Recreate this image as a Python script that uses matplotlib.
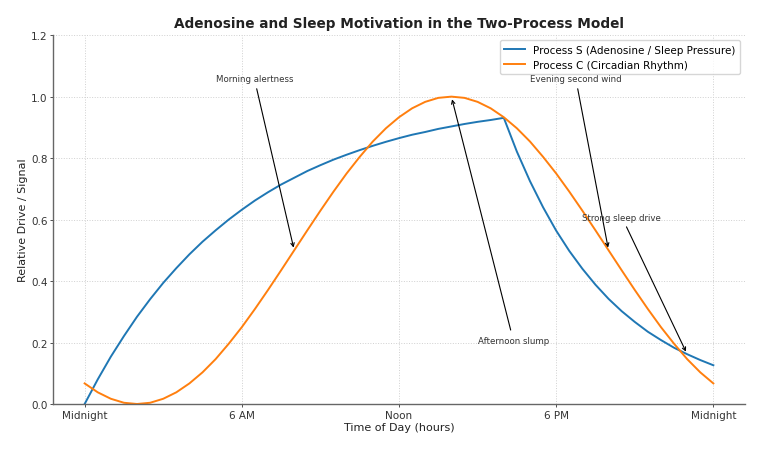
import matplotlib
matplotlib.use("Agg")
import matplotlib.pyplot as plt

# Hour of day (every half hour) and the two curves
hours = [0, 0.5, 1, 1.5, 2, 2.5, 3, 3.5, 4, 4.5, 5, 5.5, 6, 6.5, 7, 7.5,
         8, 8.5, 9, 9.5, 10, 10.5, 11, 11.5, 12, 12.5, 13, 13.5, 14, 14.5,
         15, 15.5, 16, 16.5, 17, 17.5, 18, 18.5, 19, 19.5, 20, 20.5, 21,
         21.5, 22, 22.5, 23, 23.5, 24]
process_s = [0.000, 0.080, 0.154, 0.221, 0.284, 0.341, 0.394, 0.442, 0.487,
             0.528, 0.565, 0.600, 0.632, 0.662, 0.689, 0.714, 0.736, 0.758,
             0.777, 0.795, 0.811, 0.826, 0.840, 0.853, 0.865, 0.876, 0.885,
             0.895, 0.903, 0.911, 0.918, 0.924, 0.931,
             0.821, 0.725, 0.640, 0.564, 0.498, 0.440, 0.388, 0.342, 0.302,
             0.267, 0.235, 0.208, 0.183, 0.162, 0.143, 0.126]
process_c = [0.067, 0.038, 0.017, 0.004, 0.000, 0.004, 0.017, 0.038, 0.067,
             0.103, 0.146, 0.196, 0.250, 0.309, 0.371, 0.435, 0.500, 0.565,
             0.629, 0.691, 0.750, 0.804, 0.854, 0.897, 0.933, 0.962, 0.983,
             0.996, 1.000, 0.996, 0.983, 0.962, 0.933, 0.897, 0.854, 0.804,
             0.750, 0.691, 0.629, 0.565, 0.500, 0.435, 0.371, 0.309, 0.250,
             0.196, 0.146, 0.103, 0.067]

tick_hours = [0, 6, 12, 18, 24]
tick_labels = ["Midnight", "6 AM", "Noon", "6 PM", "Midnight"]

# annotation text, target hour, which curve, text position
notes = [
    ("Morning alertness", 8, "C", (5, 1.05)),
    ("Afternoon slump", 14, "C", (15, 0.2)),
    ("Evening second wind", 20, "C", (17, 1.05)),
    ("Strong sleep drive", 23, "S", (19, 0.6)),
]

fig, ax = plt.subplots(figsize=(7.6, 4.52), dpi=100)
fig.subplots_adjust(left=0.07, right=0.98, top=0.92, bottom=0.104)

ax.plot(hours, process_s, color="#1f77b4", lw=1.4,
        label="Process S (Adenosine / Sleep Pressure)")
ax.plot(hours, process_c, color="#ff7f0e", lw=1.4,
        label="Process C (Circadian Rhythm)")

for text, h, which, pos in notes:
    i = hours.index(h)
    y = process_c[i] if which == "C" else process_s[i]
    ax.annotate(text, xy=(h, y), xytext=pos, fontsize=6.2, color="#333333",
                arrowprops=dict(arrowstyle="->", color="black", lw=0.8))

ax.set_ylim(0, 1.2)
ax.set_xticks(tick_hours)
ax.set_xticklabels(tick_labels)
ax.tick_params(labelsize=7.5, colors="#333333", length=2.5, width=0.6, pad=1.5)
ax.set_xlabel("Time of Day (hours)", fontsize=8, color="#222222", labelpad=2)
ax.set_ylabel("Relative Drive / Signal", fontsize=8, color="#222222", labelpad=2)
ax.set_title("Adenosine and Sleep Motivation in the Two-Process Model",
             fontsize=9.8, fontweight="bold", color="#222222")

ax.grid(True, linestyle=":", color="#d0d0d0", lw=0.7)
for side in ["top", "right"]:
    ax.spines[side].set_visible(False)
for side in ["left", "bottom"]:
    ax.spines[side].set_color("#666666")
    ax.spines[side].set_linewidth(1.0)

ax.legend(loc="upper right", fontsize=7.5, frameon=True, edgecolor="#cccccc")

fig.savefig("out.png", dpi=100)
